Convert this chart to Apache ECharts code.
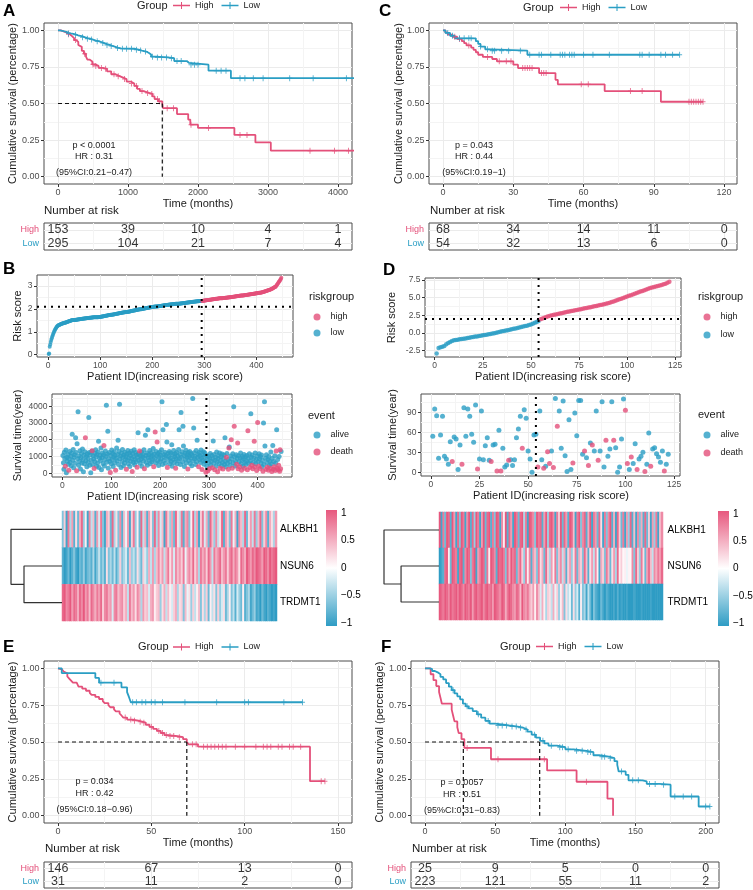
<!DOCTYPE html>
<html><head><meta charset="utf-8">
<script src="https://cdn.jsdelivr.net/npm/echarts@6/dist/echarts.min.js"></script>
<style>html,body{margin:0;padding:0;background:#fff}#c{width:753px;height:890px}</style>
</head><body><div id="c"></div>
<script>
// ================= DATA =================
// Panel A (KM)
const aHighSteps = [[0,1],[40,0.993],[80,0.987],[110,0.98],[140,0.973],[170,0.96],[200,0.947],[230,0.933],[260,0.92],[290,0.9],[310,0.887],[340,0.86],[370,0.84],[400,0.82],[420,0.8],[450,0.787],[490,0.767],[530,0.757],[580,0.743],[640,0.737],[700,0.72],[760,0.7],[820,0.687],[880,0.677],[930,0.667],[980,0.65],[1040,0.637],[1090,0.62],[1130,0.6],[1170,0.585],[1220,0.572],[1300,0.565],[1350,0.548],[1380,0.53],[1430,0.515],[1490,0.5],[1500,0.468],[1700,0.428],[1860,0.39],[1890,0.355],[2000,0.333],[2520,0.285],[2820,0.234],[3040,0.178]];
const aHighCensor = [150,250,380,500,540,620,680,800,860,950,1050,1120,1200,1280,1340,1420,1450,1560,1650,1900,2150,2600,2700,3600,3950,4150];
const aLowSteps = [[0,1],[30,0.997],[60,0.993],[90,0.99],[120,0.983],[150,0.979],[180,0.976],[220,0.97],[260,0.963],[300,0.96],[340,0.953],[380,0.947],[420,0.943],[460,0.937],[500,0.93],[540,0.926],[580,0.92],[620,0.913],[660,0.906],[700,0.9],[740,0.893],[780,0.887],[820,0.88],[860,0.877],[900,0.874],[1100,0.868],[1150,0.862],[1200,0.855],[1260,0.845],[1300,0.835],[1330,0.82],[1400,0.815],[1560,0.81],[1660,0.79],[1840,0.778],[1870,0.765],[2150,0.724],[2470,0.673]];
const aLowCensor = [150,250,350,420,480,560,640,700,760,850,920,980,1050,1120,1180,1250,1350,1420,1480,1550,1620,1700,1760,1900,1950,2000,2260,2330,2400,2600,2670,2790,2930,3310,3645,4120];
const aEnd = [4250, 4250];
const aMedians = [1490];
const aRiskTimes = [0,1000,2000,3000,4000];
const aRiskHigh = [153,39,10,4,1];
const aRiskLow = [295,104,21,7,4];
const aStats = ['p < 0.0001','HR : 0.31','(95%CI:0.21\u22120.47)'];

// Panel C (KM)
const cHighSteps = [[0,1],[1,0.985],[2,0.97],[4,0.956],[6,0.941],[8,0.926],[9,0.912],[10,0.897],[12,0.882],[13,0.867],[14,0.85],[15,0.833],[17,0.818],[21,0.804],[23,0.788],[30,0.765],[32,0.742],[41,0.708],[48,0.662],[49,0.631],[69,0.585],[93,0.512]];
const cHighCensor = [5,7,11,19,24,27,29,34,35,36,37,38,42,43,44,59,62,80,85,105,106,107,108,109,110,111];
const cLowSteps = [[0,1],[1,0.982],[3,0.963],[5,0.945],[14,0.926],[15,0.907],[16,0.889],[18,0.87],[20,0.861],[36,0.833]];
const cLowCensor = [2,4,7,9,11,12,16,19,21,22,25,28,33,37,41,42,46,50,51,52,54,55,56,60,64,71,84,85,88,93,95,98,101];
const cEnd = [111, 101];
const cMedians = [];
const cRiskTimes = [0,30,60,90,120];
const cRiskHigh = [68,34,14,11,0];
const cRiskLow = [54,32,13,6,0];
const cStats = ['p = 0.043','HR : 0.44','(95%CI:0.19\u22121)'];

// Panel E (KM)
const eHighSteps = [[0,1],[1,0.993],[2,0.986],[3,0.979],[4,0.966],[5,0.945],[6,0.931],[7,0.917],[8,0.903],[10,0.89],[11,0.876],[13,0.862],[15,0.848],[17,0.834],[18,0.82],[20,0.806],[22,0.792],[24,0.778],[25,0.764],[27,0.75],[28,0.736],[30,0.722],[31,0.708],[33,0.694],[34,0.68],[35,0.666],[37,0.652],[40,0.645],[43,0.638],[45,0.631],[47,0.617],[49,0.603],[51,0.589],[53,0.575],[55,0.561],[57,0.547],[59,0.54],[64,0.533],[67,0.519],[69,0.5],[70,0.484],[75,0.468],[135,0.234]];
const eHighCensor = [36,39,41,44,46,50,54,56,58,60,62,65,72,74,78,80,82,84,86,88,90,95,100,106,110,112,114,118,120,124,126,130,141,143];
const eLowSteps = [[0,1],[2,0.968],[20,0.935],[22,0.903],[34,0.871],[37,0.839],[38,0.806],[39,0.77]];
const eLowCensor = [23,30,40,42,45,47,50,52,56,68,85,100,102,121,131];
const eEnd = [143, 131];
const eMedians = [69];
const eRiskTimes = [0,50,100,150];
const eRiskHigh = [146,67,13,0];
const eRiskLow = [31,11,2,0];
const eStats = ['p = 0.034','HR : 0.42','(95%CI:0.18\u22120.96)'];

// Panel F (KM)
const fHighSteps = [[0,1],[4,0.96],[6,0.92],[8,0.88],[10,0.84],[11,0.8],[12,0.76],[19,0.72],[20,0.68],[21,0.64],[23,0.6],[24,0.56],[26,0.52],[28,0.46],[47,0.383],[87,0.307],[108,0.23],[130,0.115],[134,0]];
const fHighCensor = [30,52,85,115];
const fLowSteps = [[0,1],[3,0.996],[5,0.982],[7,0.973],[9,0.96],[11,0.942],[13,0.925],[15,0.9],[17,0.876],[19,0.852],[21,0.83],[23,0.81],[25,0.79],[27,0.76],[29,0.742],[31,0.728],[34,0.71],[37,0.688],[40,0.665],[43,0.643],[46,0.625],[50,0.612],[60,0.605],[66,0.597],[70,0.585],[73,0.57],[76,0.55],[79,0.53],[82,0.508],[85,0.49],[88,0.475],[94,0.465],[100,0.45],[106,0.44],[115,0.432],[120,0.41],[124,0.4],[131,0.39],[135,0.37],[137,0.345],[138,0.3],[143,0.277],[145,0.24],[155,0.232],[158,0.215],[167,0.21],[175,0.13],[195,0.062]];
const fLowCensor = [20,30,38,45,52,55,58,62,65,68,72,78,84,90,96,98,102,108,112,116,118,126,128,132,140,148,152,160,164,170,178,184,190,200,203];
const fEnd = [134, 203];
const fMedians = [27.3, 81.7];
const fRiskTimes = [0,50,100,150,200];
const fRiskHigh = [25,9,5,0,0];
const fRiskLow = [223,121,55,11,2];
const fStats = ['p = 0.0057','HR : 0.51','(95%CI:0.31\u22120.83)'];

// Panel B (risk score, survival, heatmap) - 448 patients sorted by risk
const bRisk = [
0.03,0.05,0.35,0.45,0.55,0.64,0.72,0.79,0.86,0.92,0.98,1.03,1.08,1.12,1.16,1.2,1.23,1.25,1.27,1.29,
1.3,1.31,1.32,1.33,1.34,1.35,1.36,1.36,1.37,1.38,1.39,1.4,1.4,1.41,1.42,1.43,1.44,1.44,1.45,1.46,1.47,1.47,1.48,1.49,1.5,
1.5,1.51,1.51,1.51,1.52,1.52,1.52,1.53,1.53,1.53,1.54,1.54,1.54,1.55,1.55,1.55,1.56,1.56,1.56,1.57,
1.57,1.57,1.58,1.58,1.58,1.58,1.59,1.59,1.59,1.6,1.6,1.6,1.6,1.61,1.61,1.61,1.61,1.62,1.62,1.62,
1.62,1.63,1.63,1.63,1.63,1.63,1.64,1.64,1.64,1.64,1.64,1.65,1.65,1.65,1.65,
1.66,1.66,1.67,1.67,1.67,1.68,1.68,1.69,1.69,1.7,1.7,1.7,1.71,1.71,1.72,1.72,1.73,1.73,1.73,1.74,
1.74,1.75,1.75,1.76,1.76,1.76,1.77,1.77,1.78,1.78,1.79,1.79,1.79,1.8,1.8,1.81,1.81,1.82,1.82,1.82,
1.83,1.83,1.84,1.84,1.84,1.85,1.85,1.85,1.86,1.86,
1.87,1.87,1.88,1.88,1.88,1.89,1.89,1.9,1.9,1.91,1.91,1.92,1.92,1.93,1.93,1.93,1.94,1.94,1.95,1.95,
1.96,1.96,1.97,1.97,1.97,1.98,1.98,1.99,1.99,2.0,2.0,2.01,2.01,2.02,2.02,2.02,2.03,2.03,2.04,2.04,
2.05,2.05,2.05,2.06,2.06,2.07,2.07,2.07,2.08,2.08,
2.08,2.09,2.09,2.09,2.1,2.1,2.1,2.11,2.11,2.11,2.12,2.12,2.12,2.13,2.13,2.13,2.14,2.14,2.14,2.15,
2.15,2.15,2.16,2.16,2.16,2.17,2.17,2.17,2.17,2.18,2.18,2.18,2.19,2.19,2.19,2.19,2.2,2.2,2.2,2.2,
2.21,2.21,2.21,2.21,2.22,2.22,2.22,2.22,2.22,2.23,
2.23,2.23,2.24,2.24,2.24,2.24,2.25,2.25,2.25,2.26,2.26,2.26,2.26,2.27,2.27,2.27,2.28,2.28,2.28,2.28,
2.29,2.29,2.29,2.3,2.3,2.3,2.3,2.31,2.31,2.31,2.31,2.32,2.32,2.32,2.32,2.33,2.33,2.33,2.33,2.34,
2.34,2.34,2.34,2.35,2.35,
2.35,2.36,2.36,2.36,2.37,2.37,2.37,2.38,2.38,2.38,2.39,2.39,2.39,2.39,2.4,2.4,2.4,2.41,2.41,2.41,
2.42,2.42,2.42,2.43,2.43,2.43,2.44,2.44,2.44,2.44,2.45,2.45,2.45,2.46,2.46,2.46,2.46,2.47,2.47,2.47,
2.48,2.48,2.48,2.48,2.49,2.49,2.49,2.49,2.5,2.5,2.5,2.5,2.51,2.51,2.51,
2.51,2.52,2.52,2.52,2.53,2.53,2.53,2.54,2.54,2.54,2.55,2.55,2.55,2.56,2.56,2.56,2.57,2.57,2.57,2.58,
2.58,2.58,2.59,2.59,2.59,2.6,2.6,2.6,2.61,2.61,2.61,2.62,2.62,2.62,2.63,2.63,2.63,2.64,2.64,2.64,
2.65,2.65,2.65,2.66,2.66,2.66,2.67,2.67,2.67,2.68,
2.68,2.68,2.69,2.69,2.7,2.7,2.71,2.71,2.72,2.72,2.73,2.73,2.74,2.75,2.75,2.76,2.77,2.77,2.78,2.79,
2.8,2.8,2.81,2.82,2.83,2.84,2.85,2.86,2.87,2.88,2.89,2.9,2.92,2.93,2.94,2.96,2.97,3.0,3.03,3.07,
3.1,3.13,3.17,3.2,3.23,3.27,3.31,3.36];
const bCut = 295;
const bThreshold = 2.09;
const bTime = [
1060,620,230,1250,880,410,1380,35,950,720,1120,540,180,860,1300,640,1010,450,1190,2320,
780,1420,330,960,1100,590,2120,1240,150,1760,870,3660,480,1030,700,1340,250,920,1180,610,
1450,820,90,1070,560,1280,2120,740,1000,380,1160,900,640,3320,1230,470,1080,30,780,1310,
1340,520,1040,850,280,1190,700,1400,980,420,1120,610,1260,1900,340,890,1060,760,1500,200,
940,1210,580,1090,1660,430,820,1330,1010,4060,650,1150,2500,300,870,1240,710,50,1050,560,
1380,820,1170,400,960,1280,620,1060,180,900,1500,740,1120,1960,520,1300,4120,860,1020,340,
1190,700,1420,960,450,1080,610,1250,820,1000,240,1140,780,1360,560,930,1200,400,1060,720,
1310,880,100,1170,640,990,1400,500,820,1230,700,1080,360,950,2420,1160,780,1320,600,1040,
850,1270,410,980,1130,720,1400,260,900,2260,1050,640,1200,480,2600,930,1100,770,1350,560,
990,1220,690,1060,820,1480,380,1150,900,2460,620,1300,1020,1860,740,1180,460,970,1260,700,
1080,850,1400,4260,520,2600,1120,760,960,1250,600,1040,2900,1860,340,1180,820,1000,1300,560,
900,1210,700,1700,420,1100,820,1350,640,980,1160,300,870,1240,560,1020,740,1420,2600,880,
1130,520,3620,960,1280,680,2800,1620,1050,400,1190,830,1370,620,960,1100,250,1240,760,1010,
1300,580,900,1160,450,1060,4460,740,2700,1220,860,1000,520,1350,700,1960,960,1130,380,1240,
820,1040,640,1380,900,220,1110,760,1280,540,980,1200,700,60,1060,420,820,150,1000,640,
260,900,1180,480,720,1050,330,860,1920,600,1120,200,780,960,420,1260,680,90,880,1040,
560,1200,300,760,980,450,1140,640,250,900,1080,520,2120,720,380,960,1180,600,820,240,
1500,1560,700,460,1020,2000,860,300,1160,620,3960,2800,980,430,720,1100,540,880,1800,260,
1040,680,380,920,1200,560,180,780,1000,420,860,1120,300,640,980,520,740,1060,200,2540,
880,600,1160,340,720,3540,960,480,1080,260,640,900,1900,380,1200,560,820,160,1020,3020,
700,420,1160,860,280,980,600,1080,380,760,120,3000,520,4260,1620,900,240,1100,640,360,
820,180,1000,460,720,300,1260,560,100,880,1660,240,700,380,1040,160,600,1320,2600,300,
820,200,480,1000,120,1400,260,1300];
const bDeaths = [6,13,29,47,61,65,85,98,109,131,143,153,158,168,187,190,194,215,232,257,279,286,294,298,301,307,312,318,323,329,336,340,341,346,348,352,357,359,360,363,367,373,379,380,384,388,390,393,394,398,400,402,405,411,417,420,422,426,429,432,434,436,438,440,442,443,445,446,447];
const bGenes = ['ALKBH1','NSUN6','TRDMT1'];
const bHeatALKBH1 = [-.6,.3,-.9,.8,-.4,.6,-.8,.2,-.7,.5,.9,-.5,.1,-.9,.7,-.3,.4,-.8,.6,-.2,.8,-.6,-.9,.5,.3,-.7,.9,-.4,.2,-.6,.7,-.8,.4,-.1,.6,-.9,.3,.8,-.5,.1,-.7,.9,-.3,.5,-.8,.6,.2,-.6,.9,-.4,.7,-.2,.4,-.9,.8,.3,-.5,.6,-.7,.9,.2,-.3,.8,-.8,.5,.7,-.6,.1,.9,-.4,.6,-.9,.3,.8,-.2,.5,-.7,.9,.4,-.5,.7,-.3,.2,.9,-.8,.6,.3,-.6,.8,-.1,.5,-.9,.7,.4,-.4,.9,-.7,.2,.6,-.3,.8,-.5,.4,.9,-.6,.3,.7,-.8,.5,.2,-.4,.6];
const bHeatNSUN6 = [-.8,-1,-.9,-.7,-1,-.8,-.6,-.9,-1,-.7,-.8,-.5,-.9,-.7,-.6,-.8,-.4,-.9,-.6,-.3,-.7,-.5,-.8,.2,-.6,-.4,-.7,-.3,-.8,-.5,.3,-.6,-.4,-.2,-.7,.4,-.5,-.3,-.6,.2,-.4,-.7,.3,-.2,-.5,.5,-.3,.6,-.4,.4,.7,.3,.6,-.3,.5,.8,.2,.6,-.2,.7,.4,.6,.3,.8,-.1,.5,.7,.4,.9,.3,.6,-.4,.8,.5,.7,.3,.9,.6,-.3,.8,.5,.7,.9,.4,.6,.8,.3,.7,.9,.5,.8,.6,.2,.9,.7,.5,1,.8,.6,.9,.7,1,.9,.8,.6,1,.9,.7,1,.8,.9,1];
const bHeatTRDMT1 = [.9,1,.7,.8,1,.6,.9,.8,.5,.9,.7,1,.6,.8,.4,.9,.7,.5,.8,.6,.9,.3,.7,.8,.5,.6,-.2,.7,.8,.4,.6,.7,.3,.5,-.3,.8,.4,.6,.2,.7,.5,-.4,.6,.3,.4,-.2,.5,.6,.1,.3,.4,-.5,.2,.5,-.3,.4,.1,-.2,.3,.5,-.4,.2,.3,-.6,.4,-.1,.2,-.5,.3,-.3,.1,.4,-.6,.2,-.4,.3,-.7,.1,-.3,.2,-.6,.3,-.5,-.2,.2,-.7,-.4,.1,-.6,-.3,-.8,-.2,-.5,-.7,.1,-.8,-.6,-.4,-.9,-.7,-.5,-.9,-.8,-1,-.7,-.9,-1,-.8,-.9,-1,-.9,-1];
const bDendro = {root: 1, sub: 0.745};

// Panel D - 122 patients sorted by risk
const dRisk = [
-2.92,-2.15,-2.05,-1.95,-1.85,-1.6,-1.45,-1.3,-1.15,-1.05,
-1.0,-0.97,-0.92,-0.88,-0.83,-0.78,-0.72,-0.68,-0.62,-0.57,
-0.53,-0.5,-0.45,-0.4,-0.35,-0.3,-0.25,-0.2,-0.15,-0.1,
-0.04,0.02,0.08,0.15,0.22,0.28,0.33,0.38,0.45,0.52,
0.58,0.63,0.7,0.76,0.83,0.9,0.96,1.02,1.1,1.18,
1.3,1.42,1.55,1.7,
1.93,2.05,2.15,2.25,2.35,2.42,
2.5,2.56,2.62,2.68,2.74,2.8,2.86,2.92,2.98,3.04,
3.1,3.15,3.2,3.25,3.3,3.36,3.42,3.48,3.54,3.6,
3.65,3.7,3.76,3.82,3.88,3.94,4.0,4.06,4.12,4.2,
4.28,4.36,4.45,4.55,4.65,4.75,4.85,4.95,5.05,5.15,
5.25,5.35,5.45,5.55,5.65,5.75,5.85,5.95,6.05,6.15,
6.25,6.35,6.45,6.52,6.58,6.65,6.72,6.8,6.88,6.98,7.1,7.25];
const dCut = 54;
const dThreshold = 1.96;
const dTime = [54,95,85,21,56,84,24,20,12,46,16,53,50,4,41,12,97,54,95,84,57,45,101,5,20,92,19,40,52,18,16,41,42,2,63,2,36,8,11,18,19,10,19,52,65,84,36,94,81,32,20,0,56,57,8,92,19,6,9,31,13,32,7,111,69,92,36,107,25,1,79,4,14,89,55,108,108,27,32,22,10,44,41,32,92,18,32,106,8,48,24,35,106,48,37,0,8,50,110,93,13,4,23,13,43,4,20,24,30,1,12,59,9,35,37,28,23,15,32,2,12,27];
const dDeaths = [11,16,24,31,34,36,40,47,55,58,60,61,63,65,73,79,81,83,86,90,94,100,101,103,106,110,113,120];
const dHeatALKBH1 = [1,-.9,.8,-.7,1,.9,-.8,1,.6,-.9,.9,-.6,1,.8,-.9,.7,1,-.8,.9,-.5,1,.8,-.9,.6,1,-.7,.9,1,-.8,.8,-.6,1,.9,-.9,.7,.1,1,-.8,.9,.6,-.9,1,.8,-.7,.9,1,-.4,.8,-.9,1,.9,.7,-.6,1,.8,.9,-.8,.6,1,-.5,.9,1,.7,-.9,.8,.3,1,-.7,.9,.6,-.8,1,.9,.4,-.9,.8,1,-.6,.7,.9,-.8,.5,1,-.9,.8,.6,-.7,.9,.2,-.9,.8,-.6,.7,1,-.8,.5,-.9,.9,.3,-.7,.8,-.9,.6,-.5,.9,-.8,.4,-.9,.7,-.6,.5,-.8,.9,-.7,.3,-.9,.6,-.5,.8,-.9,.4,.7];
const dHeatNSUN6 = [-1,-.9,-.8,.9,1,.1,-.7,1,.9,.8,-.9,.9,1,-.8,.7,1,.9,-.6,.8,1,-.9,.6,.8,1,.9,-.7,.8,.1,1,.9,.7,-.8,1,.9,1,.8,-.6,.9,.5,1,.8,.9,-.7,.6,.9,.3,-.5,.8,.1,.7,-.8,.6,.4,-.6,.8,.2,.5,-.7,.9,.3,-.4,.6,.1,.8,-.6,.4,.7,-.3,.5,-.8,.3,.6,-.5,.2,.8,-.7,.5,.3,-.6,.9,.4,-.8,.2,.6,-.3,.7,.1,-.9,.5,.3,-.6,.8,.4,-.7,.2,.6,-.4,.9,.1,.3,.05,.1,-.1,.08,.05,.7,-.6,.9,.3,-.5,.8,.2,-.7,.6,.9,.4,-.3,.7,.5,.8,.6,.9];
const dHeatTRDMT1 = [1,.9,.8,1,.9,.7,1,.8,.9,1,.8,1,.9,.7,1,.9,.8,1,.6,.9,1,.8,.9,1,.7,.9,1,.8,.9,.6,1,.9,.8,.7,1,.9,.5,.8,1,.9,.7,.6,.9,.8,.4,1,.7,.6,.8,.5,.3,.6,.1,.7,.4,-.2,.5,.1,-.4,.3,.2,-.3,.5,-.1,.3,-.5,.1,.4,-.6,.2,-.3,-.1,-.7,.2,-.5,-.2,-.8,.1,-.6,-.4,-.9,-.3,-.7,-1,-.6,-.8,-.9,-1,-.7,-.9,-1,-.8,-.9,-1,-1,-.9,-1,-.8,-1,-.9,-1,-1,-.9,-1,-1,-1,-.9,-1,-1,-1,-.9,-1,-1,-1,-1,-.9,-1,-1,-1,-1,-1,-1];
const dDendro = {root: 1, sub: 0.69};

const colorbarTicks = [1, 0.5, 0, -0.5, -1];

// ================= STYLE / BUILD =================
const FONT = '"Liberation Sans", Arial, Helvetica, sans-serif';
const PINK = '#E4507A', BLUE = '#2A9EC4';
const HPINK = '#E7587E', HBLUE = '#2E9CC4';
const GRIDC = '#EBEBEB', MINC = '#F4F4F4', BORDER = '#4D4D4D', TICKC = '#4D4D4D';
const PLUS = 'path://M5,0L5,10M0,5L10,5';
const LEGICON = 'path://M0,3H20V5H0Z M9.4,0H10.6V8H9.4Z';
const KM_YMAJ = [0,0.25,0.5,0.75,1], KM_YMIN = [0.125,0.375,0.625,0.875];

const opt = {animation:false, backgroundColor:'#ffffff', textStyle:{fontFamily:FONT},
  grid:[], xAxis:[], yAxis:[], series:[], legend:[], graphic:{elements:[]}, visualMap:[]};
const G = opt.graphic.elements;

function addGrid(r, border) {
  opt.grid.push({left:r.left, top:r.top, width:r.width, height:r.height, show:!!border, borderColor:BORDER, borderWidth:1, backgroundColor:'rgba(0,0,0,0)'});
  return opt.grid.length - 1;
}
function vAxis(dim, gi, min, max, majors, minors, lab, ticks) {
  const list = dim === 'x' ? opt.xAxis : opt.yAxis;
  if (minors && minors.length) {
    list.push({type:'value', gridIndex:gi, min:min, max:max, position: dim==='x'?'top':'right',
      axisLine:{show:false,onZero:false}, axisTick:{show:false, customValues:minors}, axisLabel:{show:false},
      splitLine:{show:true, lineStyle:{color:MINC, width:1}}});
  }
  list.push({type:'value', gridIndex:gi, min:min, max:max, position: dim==='x'?'bottom':'left',
    axisLine:{show:false,onZero:false},
    axisTick:{show:!!ticks, length:3, lineStyle:{color:'#333', width:1}, customValues:majors},
    axisLabel:Object.assign({show:!!lab, customValues:majors, fontSize:9, color:TICKC, margin:4.5, fontFamily:FONT}, lab||{}),
    splitLine:{show:true, lineStyle:{color:GRIDC, width:1}}});
  return list.length - 1;
}
function txt(text, x, y, o) {
  o = o || {};
  G.push({type:'text', x:x, y:y, rotation:o.rotation||0, silent:true, z:100,
    style:{text:text, fill:o.color||'#1a1a1a', fontSize:o.size||11, fontFamily:FONT, fontWeight:o.weight||'normal',
      align:o.align||'center', verticalAlign:'middle'}});
}
function survAt(steps, t) { let s = steps[0][1]; for (const p of steps) { if (p[0] <= t) s = p[1]; else break; } return s; }

function kmPanel(P) {
  const gi = addGrid(P.plot, true);
  const xi = vAxis('x', gi, P.xr[0], P.xr[1], P.xMaj, P.xMin, {formatter: v => String(v)}, true);
  const yi = vAxis('y', gi, -0.05, 1.05, KM_YMAJ, KM_YMIN, {formatter: v => v.toFixed(2)}, true);
  P.curves.forEach(c => {
    const last = c.steps[c.steps.length-1][1];
    opt.series.push({type:'line', name:c.name, xAxisIndex:xi, yAxisIndex:yi, step:'end', symbol:'none', showSymbol:false,
      data:c.steps.concat([[c.end, last]]), color:c.color, lineStyle:{color:c.color, width:1.8}, z:3, silent:true});
    opt.series.push({type:'scatter', xAxisIndex:xi, yAxisIndex:yi, symbol:PLUS, symbolSize:[5,6],
      data:c.censor.map(t => [t, survAt(c.steps, t)]), itemStyle:{color:'rgba(0,0,0,0)', borderColor:c.color, borderWidth:1}, z:4, silent:true});
  });
  if (P.medians.length) {
    const mm = Math.max.apply(null, P.medians);
    const ds = {type:'line', xAxisIndex:xi, yAxisIndex:yi, symbol:'none', lineStyle:{color:'#111', width:1.2, type:[4,3]}, z:5, silent:true};
    opt.series.push(Object.assign({}, ds, {data:[[0,0.5],[mm,0.5]]}));
    P.medians.forEach(m => opt.series.push(Object.assign({}, ds, {data:[[m,0.5],[m,0]]})));
  }
  opt.legend.push({left:P.leg.left, top:P.leg.y-4.5, itemWidth:17, itemHeight:8, itemGap:P.leg.gap, padding:0,
    icon:LEGICON, data:['High','Low'], selectedMode:false, textStyle:{fontSize:9, color:'#1a1a1a', fontFamily:FONT}});
  txt('Group', P.leg.gx, P.leg.y, {align:'left', size:11});
  txt(P.letter, P.letterPos[0], P.letterPos[1], {align:'left', size:17, weight:'bold', color:'#000'});
  txt('Cumulative survival (percentage)', P.ytitle[0], P.ytitle[1], {rotation:Math.PI/2, size:11});
  txt('Time (months)', P.xtitle[0], P.xtitle[1], {size:11});
  txt('Number at risk', P.nar[0], P.nar[1], {align:'left', size:11.5});
  P.stats.forEach((s, i) => txt(s, P.ann.x, P.ann.ys[i], {size:9}));
  const tg = addGrid(P.table, true);
  const txi = vAxis('x', tg, P.xr[0], P.xr[1], P.xMaj, P.xMin, null, false);
  const tyi = vAxis('y', tg, -0.5, 1.5, [0,1], null,
    {formatter: v => v === 1 ? '{h|High}' : '{l|Low}', margin:5,
     rich:{h:{color:PINK, fontSize:9, fontFamily:FONT}, l:{color:BLUE, fontSize:9, fontFamily:FONT}}}, false);
  const td = [];
  P.risk.times.forEach((t, i) => { td.push([t, 1, P.risk.high[i]]); td.push([t, 0, P.risk.low[i]]); });
  opt.series.push({type:'scatter', xAxisIndex:txi, yAxisIndex:tyi, data:td, symbol:'circle', symbolSize:1,
    itemStyle:{color:'rgba(0,0,0,0)'}, silent:true, clip:false,
    label:{show:true, position:'inside', formatter: p => String(p.value[2]), fontSize:12.5, color:'#000', fontFamily:FONT}});
}

function scatterPanel(S) {
  const gi = addGrid(S.plot, true);
  const xi = vAxis('x', gi, S.xr[0], S.xr[1], S.xMaj, S.xMin, {formatter: v => String(v), fontSize:8.5}, true);
  const yi = vAxis('y', gi, S.yr[0], S.yr[1], S.yMaj, S.yMin, {formatter: S.yfmt, fontSize:8.5}, true);
  S.groups.forEach(g => {
    opt.series.push({type:'scatter', name:g.name, xAxisIndex:xi, yAxisIndex:yi, data:g.data, symbol:'circle',
      symbolSize:S.size, color:g.color, itemStyle:{color:g.color}, z:3, silent:true});
  });
  const ds = {type:'line', xAxisIndex:xi, yAxisIndex:yi, symbol:'none', lineStyle:{color:'#000', width:2, type:[2,5]}, z:5, silent:true};
  if (S.hline !== undefined) opt.series.push(Object.assign({}, ds, {data:[[S.xr[0], S.hline],[S.xr[1], S.hline]]}));
  opt.series.push(Object.assign({}, ds, {data:[[S.vline, S.yr[0]],[S.vline, S.yr[1]]]}));
  opt.legend.push({left:S.leg.dotx-3.5, top:S.leg.y1-4.5, orient:'vertical', itemWidth:7, itemHeight:7, itemGap:S.leg.gap,
    padding:0, icon:'circle', data:S.groups.map(g => g.name).sort(), selectedMode:false,
    textStyle:{fontSize:9, color:'#1a1a1a', fontFamily:FONT, padding:[0,0,0,5]}});
  txt(S.leg.title, S.leg.tx, S.leg.ty, {align:'left', size:11});
  txt(S.ytitle, S.ytpos[0], S.ytpos[1], {rotation:Math.PI/2, size:11});
  txt('Patient ID(increasing risk score)', S.xtpos[0], S.xtpos[1], {size:11});
}

const heatIdx = [];
function heatPanel(H) {
  const gi = addGrid(H.plot, false);
  const n = H.rows[0].length;
  const cats = []; for (let i = 0; i < n; i++) cats.push(i);
  opt.xAxis.push({type:'category', gridIndex:gi, data:cats, show:false});
  const xi = opt.xAxis.length - 1;
  opt.yAxis.push({type:'category', gridIndex:gi, data:bGenes, inverse:true, position:'right',
    axisLine:{show:false}, axisTick:{show:false}, splitLine:{show:false},
    axisLabel:{fontSize:10, color:'#000', margin:H.labMargin, fontFamily:FONT}});
  const yi = opt.yAxis.length - 1;
  const data = [];
  H.rows.forEach((row, r) => row.forEach((v, c) => data.push([c, r, v])));
  opt.series.push({type:'heatmap', xAxisIndex:xi, yAxisIndex:yi, data:data, silent:true, itemStyle:{borderWidth:0}});
  heatIdx.push(opt.series.length - 1);
  const dg = addGrid(H.dendro, false);
  opt.xAxis.push({type:'value', gridIndex:dg, min:0, max:H.tree.root, inverse:true, show:false});
  const dxi = opt.xAxis.length - 1;
  opt.yAxis.push({type:'value', gridIndex:dg, min:-0.5, max:2.5, inverse:true, show:false});
  const dyi = opt.yAxis.length - 1;
  const ls = {type:'line', xAxisIndex:dxi, yAxisIndex:dyi, symbol:'none', lineStyle:{color:'#333', width:1.2}, silent:true};
  opt.series.push(Object.assign({}, ls, {data:[[0,0],[H.tree.root,0],[H.tree.root,1.5],[H.tree.sub,1.5]]}));
  opt.series.push(Object.assign({}, ls, {data:[[0,1],[H.tree.sub,1],[H.tree.sub,2],[0,2]]}));
  const cb = H.cbar;
  G.push({type:'rect', silent:true, shape:{x:cb.x, y:cb.y, width:cb.w, height:cb.h},
    style:{fill:{type:'linear', x:0, y:0, x2:0, y2:1, colorStops:[{offset:0,color:HPINK},{offset:0.5,color:'#FFFFFF'},{offset:1,color:HBLUE}]}}});
  colorbarTicks.forEach(t => {
    const yy = cb.y + 3 + (1 - t) / 2 * (cb.h - 6);
    txt(String(t).replace('-', '\u2212'), cb.x + cb.w + 4, yy, {align:'left', size:10, color:'#000'});
  });
}

kmPanel({letter:'A', letterPos:[3,11], plot:{left:44, top:23, width:308, height:161}, xr:[-200,4200],
  xMaj:[0,1000,2000,3000,4000], xMin:[500,1500,2500,3500],
  curves:[{name:'High', color:PINK, steps:aHighSteps, censor:aHighCensor, end:aEnd[0]},
          {name:'Low', color:BLUE, steps:aLowSteps, censor:aLowCensor, end:aEnd[1]}],
  medians:aMedians, stats:aStats, ann:{x:94, ys:[146,157,172.5]},
  leg:{left:173, y:5.5, gap:8, gx:137}, ytitle:[12.5,103.5], xtitle:[198,204], nar:[44,211],
  table:{left:44, top:223, width:308, height:27}, risk:{times:aRiskTimes, high:aRiskHigh, low:aRiskLow}});
kmPanel({letter:'C', letterPos:[379,11], plot:{left:429, top:23, width:308, height:161}, xr:[-6,125.5],
  xMaj:[0,30,60,90,120], xMin:[15,45,75,105],
  curves:[{name:'High', color:PINK, steps:cHighSteps, censor:cHighCensor, end:cEnd[0]},
          {name:'Low', color:BLUE, steps:cLowSteps, censor:cLowCensor, end:cEnd[1]}],
  medians:cMedians, stats:cStats, ann:{x:474, ys:[146,157,172.5]},
  leg:{left:560, y:7.5, gap:8, gx:523}, ytitle:[398.5,103.5], xtitle:[583,204], nar:[430,211],
  table:{left:429, top:223, width:308, height:27}, risk:{times:cRiskTimes, high:cRiskHigh, low:cRiskLow}});
kmPanel({letter:'E', letterPos:[3,647.5], plot:{left:44, top:661, width:308, height:162}, xr:[-7.5,157.5],
  xMaj:[0,50,100,150], xMin:[25,75,125],
  curves:[{name:'High', color:PINK, steps:eHighSteps, censor:eHighCensor, end:eEnd[0]},
          {name:'Low', color:BLUE, steps:eLowSteps, censor:eLowCensor, end:eEnd[1]}],
  medians:eMedians, stats:eStats, ann:{x:94.5, ys:[781.7,794,809.3]},
  leg:{left:173, y:647, gap:8, gx:138}, ytitle:[12.5,742], xtitle:[198,843], nar:[45,848.5],
  table:{left:44, top:862, width:308, height:26}, risk:{times:eRiskTimes, high:eRiskHigh, low:eRiskLow}});
kmPanel({letter:'F', letterPos:[381,647.5], plot:{left:411, top:661, width:308, height:162}, xr:[-10,209.5],
  xMaj:[0,50,100,150,200], xMin:[25,75,125,175],
  curves:[{name:'High', color:PINK, steps:fHighSteps, censor:fHighCensor, end:fEnd[0]},
          {name:'Low', color:BLUE, steps:fLowSteps, censor:fLowCensor, end:fEnd[1]}],
  medians:fMedians, stats:fStats, ann:{x:462, ys:[783,795,810.5]},
  leg:{left:536, y:646.5, gap:8, gx:500}, ytitle:[380,742], xtitle:[565,843], nar:[412,848.5],
  table:{left:411, top:862, width:308, height:26}, risk:{times:fRiskTimes, high:fRiskHigh, low:fRiskLow}});

function splitRisk(scores, cut) {
  const low = [], high = [];
  scores.forEach((v, i) => (i + 1 <= cut ? low : high).push([i + 1, v]));
  return {low, high};
}
function splitEvent(times, deaths) {
  const dead = new Set(deaths), alive = [], death = [];
  times.forEach((v, i) => (dead.has(i + 1) ? death : alive).push([i + 1, v]));
  return {alive, death};
}
const bR = splitRisk(bRisk, bCut), bE = splitEvent(bTime, bDeaths);
const dR = splitRisk(dRisk, dCut), dE = splitEvent(dTime, dDeaths);

txt('B', 3, 269, {align:'left', size:17, weight:'bold', color:'#000'});
txt('D', 383, 270, {align:'left', size:17, weight:'bold', color:'#000'});

scatterPanel({plot:{left:37, top:275, width:256, height:82}, xr:[-21.4,470.4], xMaj:[0,100,200,300,400], xMin:[50,150,250,350,450],
  yr:[-0.1,3.48], yMaj:[0,1,2,3], yMin:[0.5,1.5,2.5], yfmt: v => String(v), size:4,
  groups:[{name:'low', color:BLUE, data:bR.low},{name:'high', color:PINK, data:bR.high}],
  hline:bThreshold, vline:bCut,
  leg:{title:'riskgroup', tx:309, ty:297, dotx:317, y1:317, gap:7},
  ytitle:'Risk score', ytpos:[17.5,316], xtpos:[165,377]});
scatterPanel({plot:{left:52, top:394, width:240, height:83}, xr:[-21.4,470.4], xMaj:[0,100,200,300,400], xMin:[50,150,250,350,450],
  yr:[-225,4725], yMaj:[0,1000,2000,3000,4000], yMin:[500,1500,2500,3500,4500], yfmt: v => String(v), size:5,
  groups:[{name:'alive', color:BLUE, data:bE.alive},{name:'death', color:PINK, data:bE.death}],
  vline:bCut,
  leg:{title:'event', tx:308, ty:416, dotx:317, y1:435, gap:8},
  ytitle:'Survival time(year)', ytpos:[18,435.5], xtpos:[165,497]});

scatterPanel({plot:{left:425, top:278, width:256, height:79}, xr:[-5.05,128.05], xMaj:[0,25,50,75,100,125], xMin:[12.5,37.5,62.5,87.5,112.5],
  yr:[-3.42,7.78], yMaj:[-2.5,0,2.5,5,7.5], yMin:[-1.25,1.25,3.75,6.25], yfmt: v => v.toFixed(1), size:4.5,
  groups:[{name:'low', color:BLUE, data:dR.low},{name:'high', color:PINK, data:dR.high}],
  hline:dThreshold, vline:dCut,
  leg:{title:'riskgroup', tx:698, ty:297, dotx:707, y1:317, gap:9},
  ytitle:'Risk score', ytpos:[392,317.5], xtpos:[553,377]});
scatterPanel({plot:{left:421, top:394, width:259, height:82}, xr:[-5.05,128.05], xMaj:[0,25,50,75,100,125], xMin:[12.5,37.5,62.5,87.5,112.5],
  yr:[-5.6,117.6], yMaj:[0,30,60,90], yMin:[15,45,75,105], yfmt: v => String(v), size:5,
  groups:[{name:'alive', color:BLUE, data:dE.alive},{name:'death', color:PINK, data:dE.death}],
  vline:dCut,
  leg:{title:'event', tx:698, ty:415, dotx:707, y1:435, gap:9},
  ytitle:'Survival time(year)', ytpos:[393,435], xtpos:[551,496]});

heatPanel({plot:{left:62, top:511, width:215, height:110}, rows:[bHeatALKBH1, bHeatNSUN6, bHeatTRDMT1], labMargin:3,
  dendro:{left:11, top:511, width:51, height:110}, tree:bDendro, cbar:{x:326, y:510, w:11, h:116}});
heatPanel({plot:{left:439, top:512, width:224, height:108}, rows:[dHeatALKBH1, dHeatNSUN6, dHeatTRDMT1], labMargin:4.5,
  dendro:{left:384, top:512, width:55, height:108}, tree:dDendro, cbar:{x:718, y:511, w:11, h:115}});

opt.visualMap.push({type:'continuous', min:-1, max:1, show:false, seriesIndex:heatIdx, dimension:2,
  inRange:{color:[HBLUE, '#FFFFFF', HPINK]}});

const chart = echarts.init(document.getElementById('c'), null, {renderer:'canvas'});
chart.setOption(opt);
</script></body></html>
